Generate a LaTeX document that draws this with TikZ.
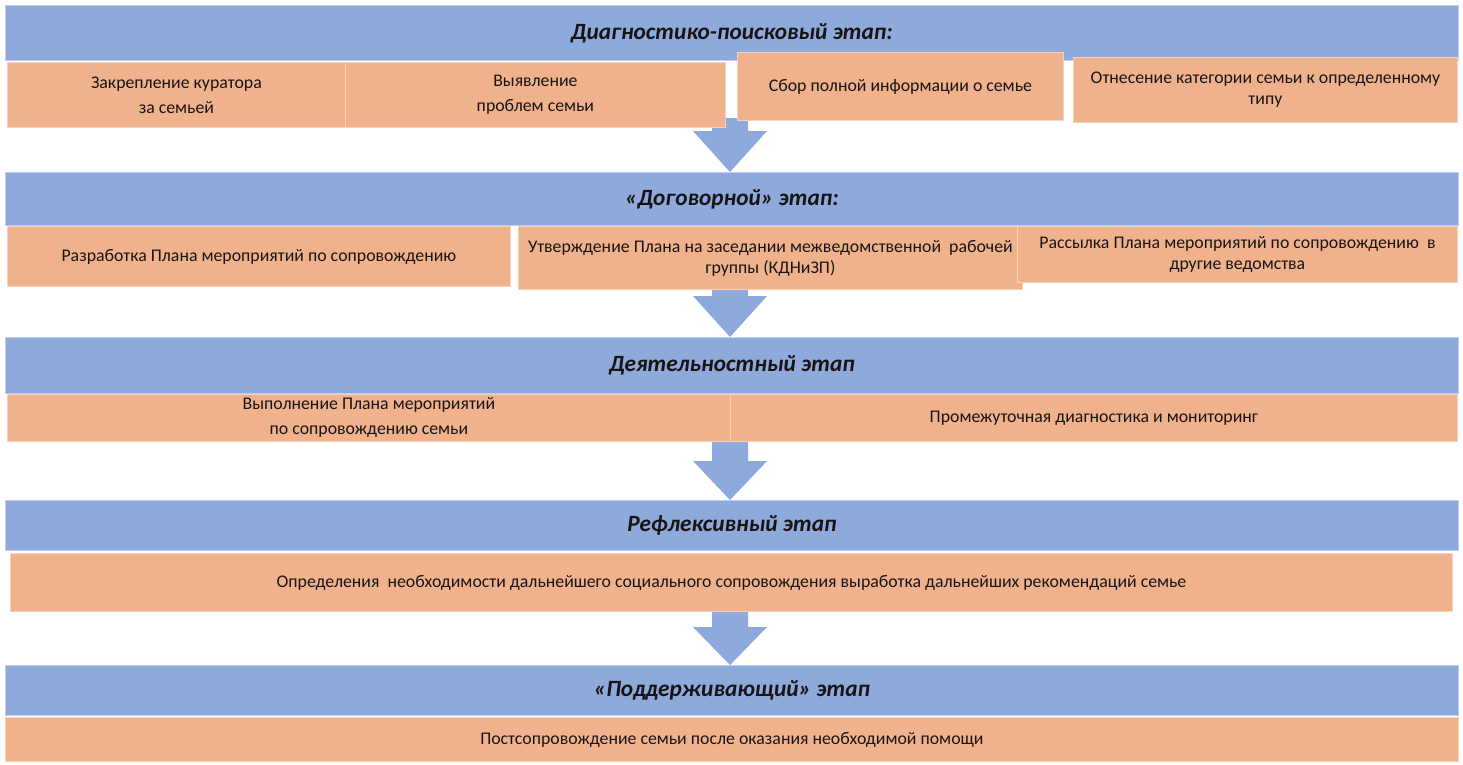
\documentclass[tikz,border=0pt]{standalone}
\usepackage{fontspec}
\setmainfont{Carlito}
\usetikzlibrary{calc}
\definecolor{bandblue}{RGB}{142,169,219}
\definecolor{bandedge}{RGB}{190,206,236}
\definecolor{boxorange}{RGB}{240,178,140}
\definecolor{boxedge}{RGB}{246,210,188}
\definecolor{txtcol}{RGB}{25,20,20}
\tikzset{
  band/.style={fill=bandblue, draw=bandedge, line width=0.8pt, inner sep=0pt, anchor=north west,
    font=\fontsize{23.3}{27}\selectfont\bfseries\itshape, text=txtcol},
  obox/.style={fill=boxorange, draw=boxedge, line width=0.8pt, inner sep=0pt, anchor=north west,
    align=center, font=\fontsize{17.8}{25}\selectfont, text=txtcol},
  blk/.style={fill=bandblue, draw=none}
}
\newcommand\blkarrow[3]{% top coord, head coord, tip coord
  \fill[bandblue] ($(#1)+(-18,0)$) -- ($(#2)+(-18,0)$) -- ($(#2)+(-37,0)$) -- (#3)
    -- ($(#2)+(37,0)$) -- ($(#2)+(18,0)$) -- ($(#1)+(18,0)$) -- cycle;}
\begin{document}
\begin{tikzpicture}[x=1pt,y=-1pt]
\fill[white] (0,0) rectangle (1463,764);
\useasboundingbox (0,0) rectangle (1463,764);

% ---------- bands ----------
\node[band, minimum width=1453, minimum height=55] (band1) at (5,5) {Диагностико-поисковый этап:};
\node[band, minimum width=1453, minimum height=53] (band2) at (5,172) {«Договорной» этап:};
\node[band, minimum width=1453, minimum height=56] (band3) at (5,337) {Деятельностный этап};
\node[band, minimum width=1453, minimum height=50] (band4) at (5,500) {Рефлексивный этап};
\node[band, minimum width=1453, minimum height=50] (band5) at (5,665) {«Поддерживающий» этап};

% ---------- arrows (under the boxes) ----------
\coordinate (a1s) at (730,118); \coordinate (a1h) at (730,131); \coordinate (a1t) at (band2.north -| a1s);
\coordinate (a2s) at (730,282); \coordinate (a2h) at (730,296); \coordinate (a2t) at (band3.north -| a2s);
\coordinate (a3s) at (730,441); \coordinate (a3h) at (730,461); \coordinate (a3t) at (band4.north -| a3s);
\coordinate (a4s) at (730,611); \coordinate (a4h) at (730,627); \coordinate (a4t) at (band5.north -| a4s);
\blkarrow{a1s}{a1h}{a1t}
\blkarrow{a2s}{a2h}{a2t}
\blkarrow{a3s}{a3h}{a3t}
\blkarrow{a4s}{a4h}{a4t}

% ---------- row 1 ----------
\node[obox, minimum width=338, minimum height=65] (b11) at (7,62) {Закрепление куратора\\за семьей};
\node[obox, minimum width=380, minimum height=65] (b12) at (345,62) {Выявление\\проблем семьи};
\node[obox, minimum width=326, minimum height=68] (b13) at (737,52) {Сбор полной информации о семье};
\node[obox, minimum width=384, minimum height=65, font=\fontsize{17.8}{21}\selectfont] (b14) at (1073,57) {Отнесение категории семьи к определенному\\типу};

% ---------- row 2 ----------
\node[obox, minimum width=503, minimum height=60] (b21) at (7,226) {Разработка Плана мероприятий по сопровождению};
\node[obox, minimum width=504, minimum height=63, font=\fontsize{17.8}{21}\selectfont] (b22) at (518,226) {Утверждение Плана на заседании межведомственной\ \ рабочей\\группы (КДНиЗП)};
\node[obox, minimum width=440, minimum height=56, font=\fontsize{17.8}{21}\selectfont] (b23) at (1017,226) {Рассылка Плана мероприятий по сопровождению\ \ в\\другие ведомства};

% ---------- row 3 ----------
\node[obox, minimum width=723, minimum height=47] (b31) at (7,394) {Выполнение Плана мероприятий\\по сопровождению семьи};
\node[obox, minimum width=727, minimum height=47] (b32) at (730,394) {Промежуточная диагностика и мониторинг};

% ---------- row 4 ----------
\node[obox, minimum width=1442, minimum height=58] (b41) at (10,553) {Определения\ \ необходимости дальнейшего социального сопровождения выработка дальнейших рекомендаций семье};

% ---------- row 5 ----------
\node[obox, minimum width=1453, minimum height=44] (b51) at (5,717) {Постсопровождение семьи после оказания необходимой помощи};
\end{tikzpicture}
\end{document}
